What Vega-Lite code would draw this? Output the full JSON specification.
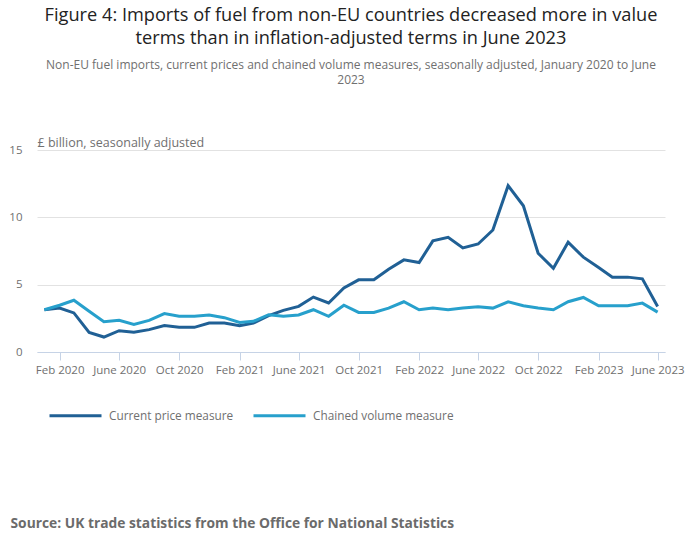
{
  "$schema": "https://vega.github.io/schema/vega-lite/v6.json",
  "width": 628,
  "height": 202,
  "autosize": {"type": "none"},
  "padding": {"left": 37, "top": 150, "right": 35, "bottom": 197},
  "background": "white",
  "title": {
    "text": ["Figure 4: Imports of fuel from non-EU countries decreased more in value", "terms than in inflation-adjusted terms in June 2023"],
    "subtitle": ["Non-EU fuel imports, current prices and chained volume measures, seasonally adjusted, January 2020 to June", "2023"],
    "anchor": "middle",
    "offset": 49,
    "font": "Open Sans",
    "fontSize": 18.2,
    "fontWeight": "normal",
    "color": "#222222",
    "lineHeight": 23,
    "subtitleFont": "Open Sans",
    "subtitleFontSize": 12,
    "subtitleColor": "#707070",
    "subtitleLineHeight": 15.5,
    "subtitlePadding": 11
  },
  "data": {
    "values": [
      {"month": "2020-01-01", "current": 3.14, "chained": 3.14},
      {"month": "2020-02-01", "current": 3.27, "chained": 3.47},
      {"month": "2020-03-01", "current": 2.9, "chained": 3.84},
      {"month": "2020-04-01", "current": 1.46, "chained": 3.02},
      {"month": "2020-05-01", "current": 1.11, "chained": 2.25},
      {"month": "2020-06-01", "current": 1.58, "chained": 2.35},
      {"month": "2020-07-01", "current": 1.46, "chained": 2.05},
      {"month": "2020-08-01", "current": 1.66, "chained": 2.35},
      {"month": "2020-09-01", "current": 1.96, "chained": 2.85},
      {"month": "2020-10-01", "current": 1.83, "chained": 2.65},
      {"month": "2020-11-01", "current": 1.83, "chained": 2.65},
      {"month": "2020-12-01", "current": 2.15, "chained": 2.75},
      {"month": "2021-01-01", "current": 2.15, "chained": 2.55},
      {"month": "2021-02-01", "current": 1.96, "chained": 2.2},
      {"month": "2021-03-01", "current": 2.15, "chained": 2.28},
      {"month": "2021-04-01", "current": 2.7, "chained": 2.77},
      {"month": "2021-05-01", "current": 3.09, "chained": 2.65},
      {"month": "2021-06-01", "current": 3.39, "chained": 2.75},
      {"month": "2021-07-01", "current": 4.08, "chained": 3.14},
      {"month": "2021-08-01", "current": 3.64, "chained": 2.65},
      {"month": "2021-09-01", "current": 4.75, "chained": 3.47},
      {"month": "2021-10-01", "current": 5.36, "chained": 2.94},
      {"month": "2021-11-01", "current": 5.36, "chained": 2.94},
      {"month": "2021-12-01", "current": 6.15, "chained": 3.26},
      {"month": "2022-01-01", "current": 6.84, "chained": 3.73},
      {"month": "2022-02-01", "current": 6.64, "chained": 3.14},
      {"month": "2022-03-01", "current": 8.25, "chained": 3.26},
      {"month": "2022-04-01", "current": 8.52, "chained": 3.14},
      {"month": "2022-05-01", "current": 7.73, "chained": 3.26},
      {"month": "2022-06-01", "current": 8.02, "chained": 3.36},
      {"month": "2022-07-01", "current": 9.06, "chained": 3.26},
      {"month": "2022-08-01", "current": 12.35, "chained": 3.73},
      {"month": "2022-09-01", "current": 10.86, "chained": 3.43},
      {"month": "2022-10-01", "current": 7.33, "chained": 3.26},
      {"month": "2022-11-01", "current": 6.22, "chained": 3.14},
      {"month": "2022-12-01", "current": 8.15, "chained": 3.73},
      {"month": "2023-01-01", "current": 7.04, "chained": 4.05},
      {"month": "2023-02-01", "current": 6.27, "chained": 3.43},
      {"month": "2023-03-01", "current": 5.56, "chained": 3.43},
      {"month": "2023-04-01", "current": 5.56, "chained": 3.43},
      {"month": "2023-05-01", "current": 5.43, "chained": 3.63},
      {"month": "2023-06-01", "current": 3.38, "chained": 2.96}
    ]
  },
  "transform": [
    {"fold": ["current", "chained"], "as": ["key", "value"]},
    {"calculate": "datum.key == 'current' ? 'Current price measure' : 'Chained volume measure'", "as": "series"}
  ],
  "mark": {"type": "line", "strokeWidth": 3},
  "encoding": {
    "x": {
      "field": "month",
      "type": "temporal",
      "scale": {"type": "utc", "domain": [{"year": 2019, "month": 12, "date": 17, "utc": true}, {"year": 2023, "month": 6, "date": 16, "utc": true}]},
      "axis": {
        "values": [
          {"year": 2020, "month": 2, "date": 1, "utc": true},
          {"year": 2020, "month": 6, "date": 1, "utc": true},
          {"year": 2020, "month": 10, "date": 1, "utc": true},
          {"year": 2021, "month": 2, "date": 1, "utc": true},
          {"year": 2021, "month": 6, "date": 1, "utc": true},
          {"year": 2021, "month": 10, "date": 1, "utc": true},
          {"year": 2022, "month": 2, "date": 1, "utc": true},
          {"year": 2022, "month": 6, "date": 1, "utc": true},
          {"year": 2022, "month": 10, "date": 1, "utc": true},
          {"year": 2023, "month": 2, "date": 1, "utc": true},
          {"year": 2023, "month": 6, "date": 1, "utc": true}
        ],
        "labelExpr": "(utcFormat(datum.value, '%m') == '06' ? 'June' : utcFormat(datum.value, '%b')) + ' ' + utcFormat(datum.value, '%Y')",
        "title": "Source: UK trade statistics from the Office for National Statistics",
        "titleX": -27,
        "titleY": 175,
        "titleAlign": "left",
        "titleAnchor": "start",
        "titleBaseline": "alphabetic",
        "titleFont": "Open Sans",
        "titleFontSize": 13.8,
        "titleFontWeight": "bold",
        "titleColor": "#6b6b6b",
        "grid": false,
        "domainColor": "#c6d3e6",
        "tickColor": "#c6d3e6",
        "tickSize": 8,
        "labelPadding": 4,
        "labelFont": "Open Sans",
        "labelFontSize": 11.5,
        "labelColor": "#707070",
        "labelOverlap": false,
        "labelFlush": false
      }
    },
    "y": {
      "field": "value",
      "type": "quantitative",
      "scale": {"domain": [0, 15]},
      "axis": {
        "values": [0, 5, 10, 15],
        "title": "£ billion, seasonally adjusted",
        "titleAngle": 0,
        "titleX": 0,
        "titleY": -4,
        "titleAlign": "left",
        "titleBaseline": "alphabetic",
        "titleFont": "Open Sans",
        "titleFontSize": 12.5,
        "titleFontWeight": "normal",
        "titleColor": "#707070",
        "domain": false,
        "ticks": false,
        "gridColor": "#e2e2e2",
        "labelPadding": 15,
        "labelFont": "Open Sans",
        "labelFontSize": 11.5,
        "labelColor": "#707070"
      }
    },
    "color": {
      "field": "series",
      "type": "nominal",
      "sort": ["Current price measure", "Chained volume measure"],
      "scale": {"domain": ["Current price measure", "Chained volume measure"], "range": ["#206095", "#27a0cc"]},
      "legend": {
        "title": null,
        "orient": "none",
        "legendX": 11,
        "legendY": 238,
        "direction": "horizontal",
        "symbolType": "stroke",
        "symbolSize": 2704,
        "symbolStrokeWidth": 3,
        "labelFont": "Open Sans",
        "labelFontSize": 11.8,
        "labelColor": "#707070",
        "labelOffset": 6,
        "columnPadding": 13
      }
    }
  },
  "config": {
    "view": {"stroke": null},
    "font": "Open Sans"
  }
}
